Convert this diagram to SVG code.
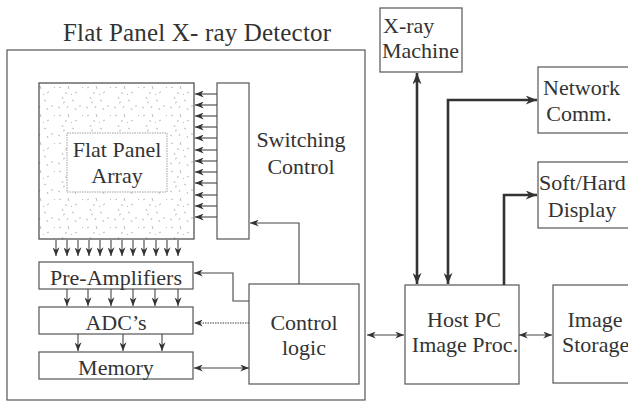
<svg xmlns="http://www.w3.org/2000/svg" width="628" height="403" viewBox="0 0 628 403">
<style>
text{font-family:"Liberation Serif","Times New Roman",serif;fill:#333;font-size:22px}
text.title{font-size:25px}
.c{text-anchor:middle}
.box{fill:#fff;stroke:#555;stroke-width:1.2}
.thin{fill:none;stroke:#444;stroke-width:1.1}
.thick{fill:none;stroke:#333;stroke-width:2.6}
</style>
<defs>
<marker id="a" viewBox="0 0 10 8" refX="10" refY="4" markerWidth="9" markerHeight="7" markerUnits="userSpaceOnUse" orient="auto-start-reverse"><path d="M0,0 L10,4 L0,8 L3,4 z" fill="#333" stroke="none"/></marker>
<marker id="A" viewBox="0 0 10 8" refX="10" refY="4" markerWidth="13" markerHeight="9" markerUnits="userSpaceOnUse" orient="auto-start-reverse"><path d="M0,0 L10,4 L0,8 L3,4 z" fill="#333" stroke="none"/></marker>
<pattern id="speck" width="28" height="28" patternUnits="userSpaceOnUse">
<path d="M3,4 l2,-1 M12,2 l1,3 M21,8 l-2,1 M6,13 l1,2 M16,16 l2,1 M24,21 l0,2 M2,23 l2,1 M11,24 l1,-2 M9,9 l2,0 M26,3 l1,1 M15,10 l1,1 M7,19 l2,-1 M19,24 l1,2" stroke="#aaa" stroke-width="0.8" fill="none"/>
</pattern>
</defs>

<text x="197" y="41" class="title c" textLength="268">Flat Panel X- ray Detector</text>
<g id="detector"><rect x="7" y="50" width="358" height="350" fill="none" stroke="#555" stroke-width="1.2"/></g>

<g id="flatpanel">
<rect x="39" y="83" width="155" height="156" fill="url(#speck)" stroke="#444" stroke-width="1.2"/>
<rect x="67" y="133" width="100" height="59" fill="#fff" stroke="#888" stroke-width="0.8" stroke-dasharray="1.5,1"/>
<text x="117" y="157" class="c">Flat Panel</text>
<text x="117" y="183" class="c">Array</text>
</g>
<g id="switching">
<rect class="box" x="217" y="83" width="32" height="156"/>
<text x="301" y="147" class="c">Switching</text>
<text x="301" y="174" class="c">Control</text>
</g>
<g id="preamp"><rect class="box" x="39" y="262" width="154" height="27"/><text x="116" y="285" class="c">Pre-Amplifiers</text></g>
<g id="adc"><rect class="box" x="39" y="307" width="154" height="27"/><text x="116" y="330" class="c">ADC’s</text></g>
<g id="memory"><rect class="box" x="39" y="352" width="154" height="27"/><text x="116" y="375" class="c">Memory</text></g>
<g id="control"><rect class="box" x="249" y="284" width="110" height="100"/><text x="304" y="330" class="c">Control</text><text x="304" y="355" class="c">logic</text></g>

<g id="xray"><rect class="box" x="380" y="8" width="82" height="64"/><text x="383" y="33">X-ray</text><text x="382" y="58">Machine</text></g>
<g id="network"><rect class="box" x="538" y="67" width="100" height="66"/><text x="543" y="95">Network</text><text x="579" y="121" class="c">Comm.</text></g>
<g id="display"><rect class="box" x="538" y="162" width="100" height="66"/><text x="539" y="190">Soft/Hard</text><text x="582" y="217" class="c">Display</text></g>
<g id="host"><rect class="box" x="405" y="285" width="114" height="99"/><text x="464" y="327" class="c">Host PC</text><text x="465" y="352" class="c">Image Proc.</text></g>
<g id="storage"><rect class="box" x="553" y="285" width="90" height="98"/><text x="595" y="327" class="c">Image</text><text x="562" y="352">Storage</text></g>

<g id="connectors">
<g class="thin" marker-end="url(#a)">
<path d="M217,94H195"/><path d="M217,105H195"/><path d="M217,116H195"/><path d="M217,127H195"/><path d="M217,138H195"/><path d="M217,150H195"/><path d="M217,161H195"/><path d="M217,172H195"/><path d="M217,183H195"/><path d="M217,195H195"/><path d="M217,206H195"/><path d="M217,217H195"/>
<path d="M56,240V256"/><path d="M67,240V256"/><path d="M78,240V256"/><path d="M89,240V256"/><path d="M100,240V256"/><path d="M111,240V256"/><path d="M122,240V256"/><path d="M133,240V256"/><path d="M144,240V256"/><path d="M156,240V256"/><path d="M167,240V256"/><path d="M178,240V256"/>
<path d="M67,289V306"/><path d="M88,289V306"/><path d="M111,289V306"/><path d="M133,289V306"/><path d="M155,289V306"/><path d="M178,289V306"/>
<path d="M78,334V351"/><path d="M123,334V351"/><path d="M162,334V351"/>
<path d="M299,284V223H250"/>
<path d="M249,301H233V273H194"/>
<path d="M249,323H194" stroke-dasharray="1.5,1"/>
<path d="M249,368H194" marker-start="url(#a)"/>
<path d="M367,335H404" marker-start="url(#a)"/>
<path d="M519,335H552" marker-start="url(#a)"/>
</g>
<g class="thick" marker-end="url(#A)">
<path d="M417,284V73" marker-start="url(#A)"/>
<path d="M448,284V100H537" marker-start="url(#A)"/>
<path d="M504,285V195H537"/>
</g>
</g>
</svg>
